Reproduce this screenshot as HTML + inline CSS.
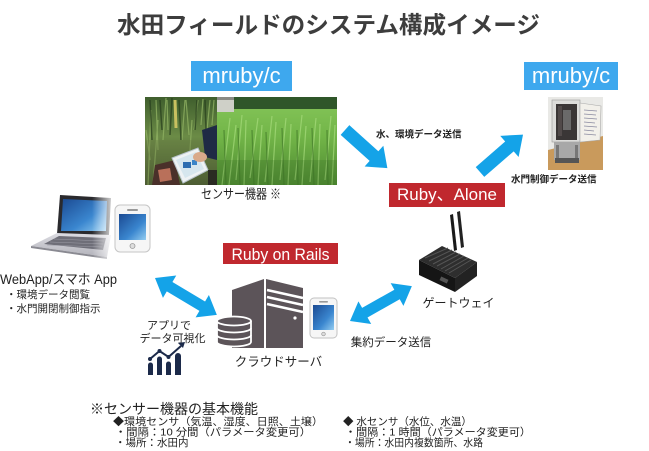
<!DOCTYPE html>
<html><head><meta charset="utf-8"><style>
html,body{margin:0;padding:0;background:#fff;}
#c{position:relative;width:649px;height:451px;overflow:hidden;background:#fff;}
svg{position:absolute;left:0;top:0;}
text{font-family:"Liberation Sans","Noto Sans CJK JP",sans-serif;}
</style></head><body><div id="c">
<svg width="649" height="451" viewBox="0 0 649 451" xmlns="http://www.w3.org/2000/svg">
<defs>
 <linearGradient id="fieldG" x1="0" y1="0" x2="0" y2="1">
  <stop offset="0" stop-color="#86c65a"/><stop offset="0.45" stop-color="#72b548"/><stop offset="1" stop-color="#4e8a31"/>
 </linearGradient>
 <linearGradient id="grassG" x1="0" y1="0" x2="0" y2="1">
  <stop offset="0" stop-color="#3f5e2d"/><stop offset="0.45" stop-color="#6b8b46"/><stop offset="1" stop-color="#3e4d2a"/>
 </linearGradient>
 <linearGradient id="scr" x1="0" y1="0" x2="1" y2="1">
  <stop offset="0" stop-color="#1b4a92"/><stop offset="0.6" stop-color="#3a86cf"/><stop offset="1" stop-color="#94cdf1"/>
 </linearGradient>
 <linearGradient id="fade" x1="0" y1="0" x2="1" y2="0">
  <stop offset="0" stop-color="#fff" stop-opacity="0"/><stop offset="1" stop-color="#fff" stop-opacity="0.95"/>
 </linearGradient>
 <linearGradient id="silver" x1="0" y1="0" x2="0" y2="1">
  <stop offset="0" stop-color="#dcdce2"/><stop offset="1" stop-color="#b2b2ba"/>
 </linearGradient>
 <clipPath id="ph"><rect x="145" y="97" width="192" height="88"/></clipPath>
</defs>

<!-- Title -->
<text x="328.5" y="33" font-size="23.5" font-weight="bold" fill="#3d3d3d" text-anchor="middle" textLength="423" lengthAdjust="spacingAndGlyphs">水田フィールドのシステム構成イメージ</text>

<!-- mruby/c boxes -->
<rect x="191" y="61" width="101" height="30" fill="#3ea8ee"/>
<text x="241.5" y="83" font-size="22" fill="#fff" text-anchor="middle">mruby/c</text>
<rect x="524" y="62" width="94" height="28" fill="#3ea8ee"/>
<text x="571" y="83" font-size="22" fill="#fff" text-anchor="middle">mruby/c</text>

<!-- Sensor photo -->
<g clip-path="url(#ph)">
 <rect x="145" y="97" width="72" height="88" fill="url(#grassG)"/>
 <path d="M148,185 L151,110 M153,185 L158,120 M158,150 L156,100 M163,140 L166,98 M168,130 L167,100 M182,140 L185,100 M189,135 L186,100 M194,130 L198,100 M201,125 L203,99 M207,130 L210,100 M212,125 L214,100 M150,160 L146,130 M190,150 L192,120" stroke="#8fb062" stroke-width="1.2" fill="none" opacity="0.8"/>
 <path d="M150,100 L152,140 M160,100 L162,130 M172,98 L170,135 M179,100 L181,140 M197,100 L195,130 M205,100 L206,130" stroke="#263d1c" stroke-width="1.5" fill="none" opacity="0.7"/>
 <path d="M175,100 L176,128" stroke="#c8c060" stroke-width="3"/>
 <rect x="145" y="140" width="72" height="45" fill="#6a7a45" opacity="0.35"/>
 <polygon points="155,165 175,160 180,185 152,185" fill="#4a302a"/>
 <polygon points="158,170 170,168 172,180 160,182" fill="#b9705a"/>
 <polygon points="172,158 198,148 208,170 183,183" fill="#eef2f4" stroke="#b8c4cc" stroke-width="1"/>
 <polygon points="176,160 196,152 204,169 185,178" fill="#d6e6ee"/>
 <rect x="183" y="162" width="8" height="6" fill="#2c6cb0"/>
 <rect x="192" y="160" width="5" height="5" fill="#3a84c8"/>
 <polygon points="202,130 217,125 217,160 205,157" fill="#1f2a45"/>
 <ellipse cx="200" cy="157" rx="7" ry="5" fill="#d9a98a"/>
 <rect x="208" y="170" width="9" height="15" fill="#2a2a22"/>
 <rect x="217" y="97" width="120" height="88" fill="url(#fieldG)"/>
 <rect x="233" y="97" width="104" height="12" fill="#2f5629"/>
 <rect x="217" y="97" width="17" height="15" fill="#cfd0c8"/>
 <rect x="217" y="97" width="17" height="3" fill="#8a8a84"/>
 <path d="M222,185 L230,118 M229,185 L236,125 M236,180 L242,115 M244,185 L246,120 M250,178 L258,118 M258,185 L262,125 M265,182 L272,116 M272,185 L276,122 M280,180 L286,118 M288,185 L291,124 M295,180 L302,115 M302,185 L306,126 M310,182 L316,118 M318,185 L320,124 M325,180 L331,116 M332,185 L335,125" stroke="#a6dc7c" stroke-width="1.2" fill="none" opacity="0.7"/>
 <path d="M226,185 L224,130 M240,185 L238,128 M254,185 L252,130 M268,185 L266,132 M284,185 L282,128 M298,185 L297,130 M314,185 L312,128 M328,185 L327,130" stroke="#3d7526" stroke-width="1.3" fill="none" opacity="0.6"/>
 <rect x="217" y="160" width="120" height="25" fill="#3d6a28" opacity="0.25"/>
</g>
<text x="241" y="198.5" font-size="13" fill="#222" text-anchor="middle" textLength="80" lengthAdjust="spacingAndGlyphs">センサー機器 ※</text>

<!-- Arrow 1 (sensor -> gateway) -->
<path transform="translate(345,130) rotate(42)" d="M0,-6.5 L39,-6.5 L39,-14 L57,0 L39,14 L39,6.5 L0,6.5 Z" fill="#14a3e8"/>
<text x="376" y="137.5" font-size="9.5" font-weight="bold" fill="#222">水、環境データ送信</text>

<!-- Arrow 2 (gateway -> gate) -->
<path transform="translate(480,172) rotate(-41)" d="M0,-6.5 L39,-6.5 L39,-14 L57,0 L39,14 L39,6.5 L0,6.5 Z" fill="#14a3e8"/>

<!-- Gate photo -->
<rect x="548" y="97" width="55" height="73" fill="#e9e9e6"/>
<polygon points="548,150 603,136 603,170 548,170" fill="#c99a5c"/>
<rect x="552" y="100" width="28" height="42" fill="#dcdcda" stroke="#9a9a9a" stroke-width="0.6"/>
<rect x="556" y="104" width="21" height="36" fill="#3a3636"/>
<rect x="563" y="110" width="8" height="20" fill="#6a6a6a"/>
<rect x="558" y="106" width="4" height="30" fill="#514a4a"/>
<polygon points="580,103 601,106 600,140 580,142" fill="#f2f0ea" stroke="#aaa" stroke-width="0.6"/>
<path d="M584,110 L597,111 M584,114 L596,115 M584,118 L597,119 M584,122 L595,123 M584,126 L597,127 M584,130 L594,131 M584,134 L596,135" stroke="#8a8aa0" stroke-width="0.8"/>
<rect x="554" y="142" width="26" height="18" fill="#a8a8a8"/>
<rect x="556" y="145" width="3" height="15" fill="#777"/>
<rect x="575" y="145" width="3" height="15" fill="#777"/>
<rect x="555" y="158" width="24" height="5" fill="#555"/>
<text x="511" y="182.5" font-size="9.5" font-weight="bold" fill="#222">水門制御データ送信</text>

<!-- Ruby、Alone -->
<rect x="389" y="183" width="116" height="24" fill="#c0282e"/>
<text x="447" y="200" font-size="17" fill="#fff" text-anchor="middle" textLength="100" lengthAdjust="spacingAndGlyphs">Ruby、Alone</text>

<!-- Gateway device -->
<polygon points="450,215 453,214 457,250 454,251" fill="#1a1a1a"/>
<polygon points="457,212 460,211 464,247 461,248" fill="#222"/>
<polygon points="419,260 442,246 477,262 455,278" fill="#2e2e2e"/>
<path d="M425,258 L448,248 M429,261 L452,250 M433,264 L456,252 M437,266 L460,254 M441,269 L464,256 M445,271 L468,258 M449,273 L471,260" stroke="#555" stroke-width="1"/>
<polygon points="419,260 455,278 455,292 419,275" fill="#151515"/>
<polygon points="455,278 477,262 477,276 455,292" fill="#222"/>
<rect x="440" y="278" width="8" height="4" fill="#555" transform="rotate(25 444 280)"/>
<text x="458.5" y="307" font-size="12" fill="#222" text-anchor="middle">ゲートウェイ</text>

<!-- Laptop -->
<polygon points="60,195 111,198 109,235 57,234" fill="#2a2a2e"/>
<polygon points="63,199 107,201 106,231 61,231" fill="url(#scr)"/>
<polygon points="57,233 111,235 107,257 31,246" fill="url(#silver)"/>
<polygon points="59,236 106,238 103,250 44,244" fill="#6e6e78"/>
<path d="M54,239 L104,241 M50,242 L103,244 M47,245 L102,247" stroke="#9a9aa4" stroke-width="0.6"/>
<polygon points="31,246 107,257 107,259 31,248" fill="#8a8a92"/>
<polygon points="92,194 116,194 116,262 92,262" fill="url(#fade)"/>

<!-- Phone (left) -->
<rect x="115" y="205" width="35" height="47" rx="5" fill="#f6f6f6" stroke="#c6c6c6" stroke-width="1"/>
<rect x="127" y="209" width="11" height="2" rx="1" fill="#999"/>
<rect x="119" y="214" width="27" height="26" fill="url(#scr)"/>
<circle cx="132.5" cy="246" r="2.5" fill="#ddd" stroke="#999" stroke-width="0.8"/>

<!-- WebApp text -->
<text x="0" y="284" font-size="13.5" fill="#222" textLength="117" lengthAdjust="spacingAndGlyphs">WebApp/スマホ App</text>
<text x="6" y="298" font-size="10.5" fill="#222">・環境データ閲覧</text>
<text x="6" y="312" font-size="10.5" fill="#222">・水門開閉制御指示</text>

<!-- Left double arrow -->
<path transform="translate(155,278) rotate(30.8)" d="M0,0 L17,-13 L17,-5.5 L55,-5.5 L55,-13 L72,0 L55,13 L55,5.5 L17,5.5 L17,13 Z" fill="#14a3e8"/>

<!-- Right double arrow -->
<path transform="translate(350,321) rotate(-29.4)" d="M0,0 L17,-13 L17,-5.5 L54,-5.5 L54,-13 L71,0 L54,13 L54,5.5 L17,5.5 L17,13 Z" fill="#14a3e8"/>
<text x="391" y="346" font-size="11.5" fill="#222" text-anchor="middle">集約データ送信</text>

<!-- Ruby on Rails -->
<rect x="223" y="243" width="115" height="21" fill="#c0282e"/>
<text x="280.5" y="260" font-size="17" fill="#fff" text-anchor="middle" textLength="98" lengthAdjust="spacingAndGlyphs">Ruby on Rails</text>

<!-- Server -->
<polygon points="232,290 264,279 264,348 232,348" fill="#5c5459"/>
<polygon points="266,279 303,288 303,348 266,348" fill="#5c5459"/>
<path d="M267,290 L303,298 M267,297 L303,305 M267,304 L303,312" stroke="#fff" stroke-width="2.5"/>
<circle cx="295" cy="318" r="1.6" fill="#fff"/>
<g stroke="#fff" stroke-width="1.8">
 <path d="M217,321 L217,342 A17,4.5 0 0 0 251,342 L251,321 A17,4.5 0 0 0 217,321 Z" fill="#5c5459"/>
 <path d="M217,328 A17,4.5 0 0 0 251,328 M217,335 A17,4.5 0 0 0 251,335 M217,321 A17,4.5 0 0 0 251,321" fill="none"/>
</g>

<!-- Phone (server) -->
<rect x="310" y="298" width="27" height="40" rx="4" fill="#f6f6f6" stroke="#c2c2c2" stroke-width="1"/>
<rect x="319" y="301" width="9" height="1.6" rx="0.8" fill="#999"/>
<rect x="313" y="305" width="21" height="25" fill="url(#scr)"/>
<circle cx="323.5" cy="334" r="1.8" fill="#ddd" stroke="#999" stroke-width="0.7"/>
<text x="278.5" y="366" font-size="12.5" fill="#222" text-anchor="middle">クラウドサーバ</text>

<!-- App visualization -->
<text x="169" y="329" font-size="11" fill="#222" text-anchor="middle">アプリで</text>
<text x="172.5" y="342" font-size="11" fill="#222" text-anchor="middle">データ可視化</text>
<g fill="#1c2a4a">
 <path d="M148,375 L148,365 A2.5,2.5 0 0 1 153,365 L153,375 Z"/>
 <path d="M157,375 L157,359 A2.5,2.5 0 0 1 162,359 L162,375 Z"/>
 <path d="M166,375 L166,364 A2.5,2.5 0 0 1 171,364 L171,375 Z"/>
 <path d="M175,375 L175,356 A3,3 0 0 1 181,356 L181,375 Z"/>
 <polygon points="185,342 178,343 183,348"/>
</g>
<polyline points="150,359 159.5,351 168.5,357 181,346" fill="none" stroke="#1c2a4a" stroke-width="2"/>
<g fill="#1c2a4a"><circle cx="150" cy="359" r="2"/><circle cx="159.5" cy="351" r="2"/><circle cx="168.5" cy="357" r="2"/></g>

<!-- Bottom notes -->
<text x="90" y="414" font-size="14" fill="#222">※センサー機器の基本機能</text>
<text x="113" y="425" font-size="10.5" fill="#222" textLength="210" lengthAdjust="spacingAndGlyphs">◆環境センサ（気温、湿度、日照、土壌）</text>
<text x="115" y="435.5" font-size="10.5" fill="#222" textLength="196" lengthAdjust="spacingAndGlyphs">・間隔：10 分間（パラメータ変更可）</text>
<text x="115" y="446" font-size="10.5" fill="#222">・場所：水田内</text>
<text x="343" y="425" font-size="10.5" fill="#222">◆ 水センサ（水位、水温）</text>
<text x="345" y="435.5" font-size="10.5" fill="#222" textLength="186" lengthAdjust="spacingAndGlyphs">・間隔：1 時間（パラメータ変更可）</text>
<text x="345" y="446" font-size="10.5" fill="#222" textLength="138" lengthAdjust="spacingAndGlyphs">・場所：水田内複数箇所、水路</text>
</svg>
</div></body></html>
